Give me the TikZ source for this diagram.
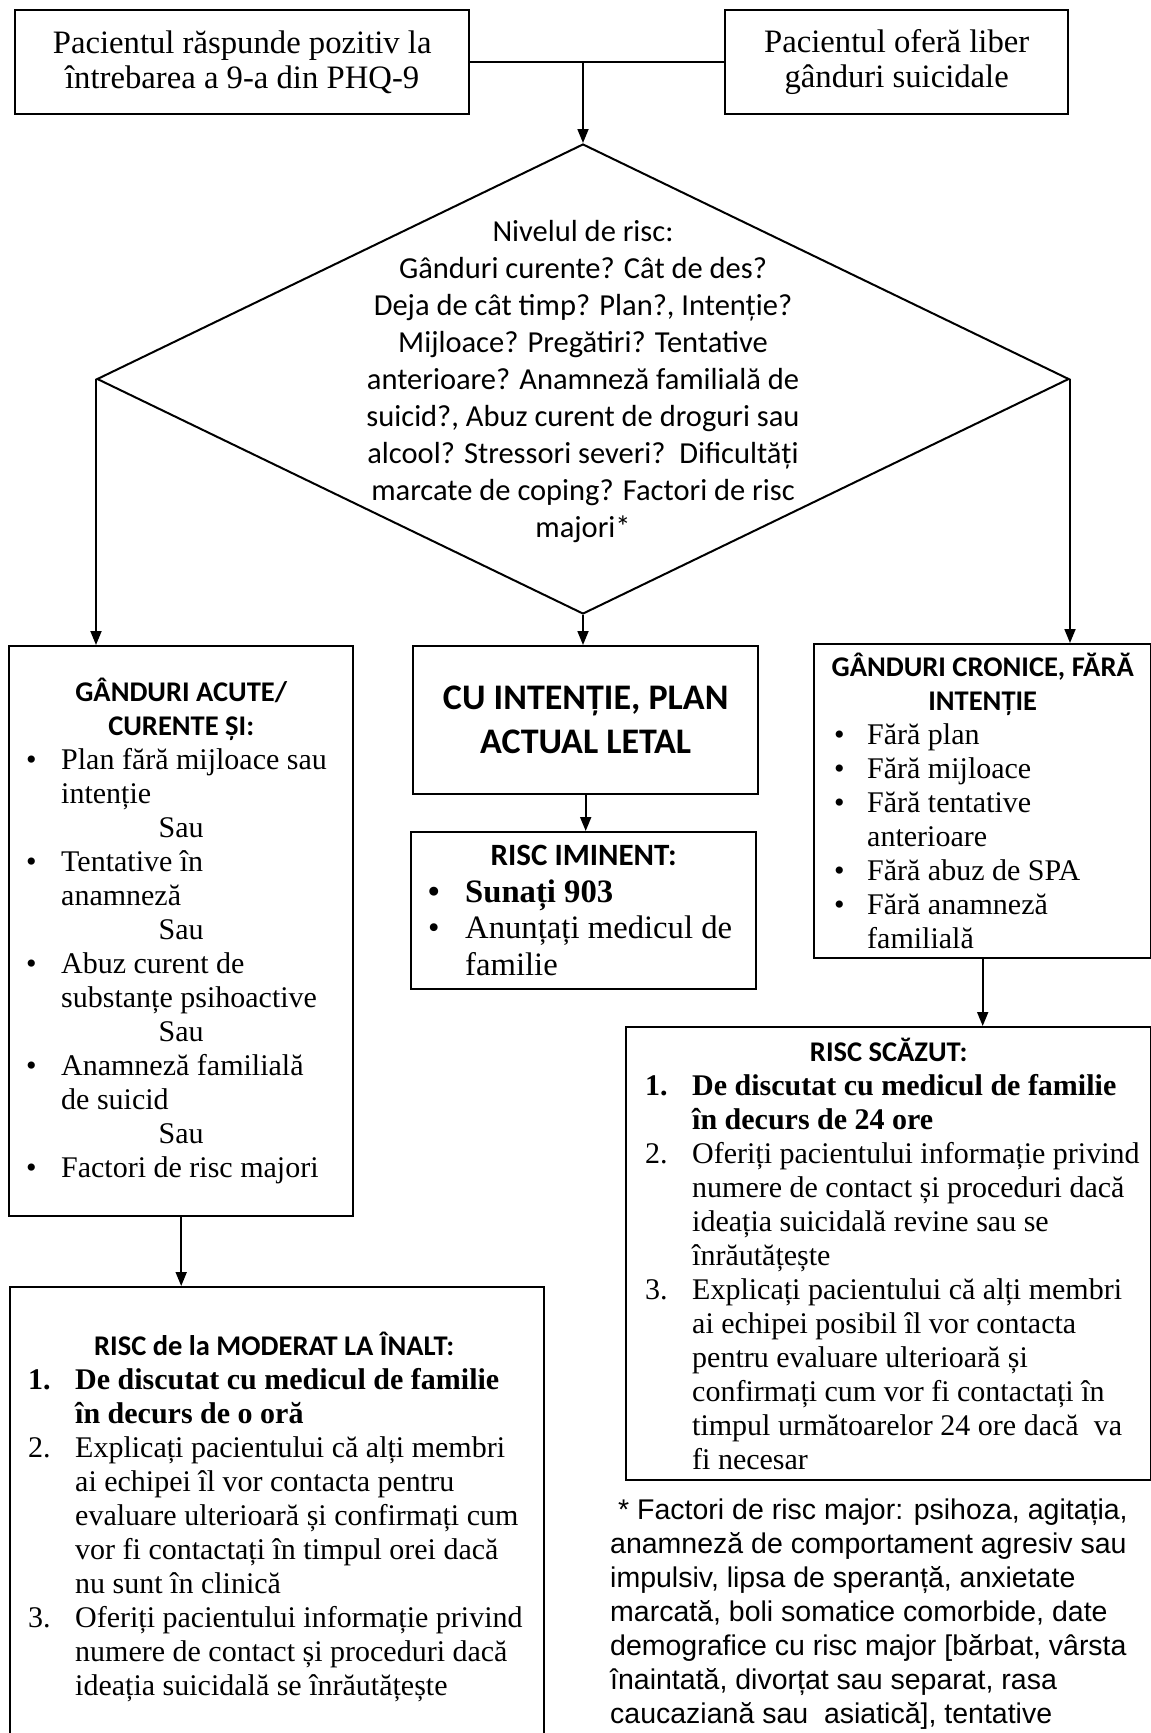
\documentclass[tikz,border=0pt]{standalone}
\usepackage{fontspec}
\setmainfont{Liberation Serif}
\newfontfamily\calfont{Carlito}
\newfontfamily\arfont{Liberation Sans}
\usetikzlibrary{arrows.meta,shapes.geometric}

\newlength\bulw
\newlength\bulx
\newcommand\tblk[2]{\vbox{\hsize=#1\relax\parindent=0pt\lineskiplimit=-500pt\lineskip=0pt #2}}
\newcommand\ttopblk[2]{\vtop{\hsize=#1\relax\parindent=0pt\lineskiplimit=-500pt\lineskip=0pt #2}}
\newcommand\lnC[1]{\hbox to\hsize{\hss#1\hss}}
\newcommand\lnL[1]{\hbox to\hsize{#1\hss}}
\newcommand\lnB[1]{\hbox to\hsize{\hbox to\bulw{\hskip\bulx•\hss}#1\hss}}
\newcommand\lnI[1]{\hbox to\hsize{\hskip\bulw#1\hss}}
\newcommand\lnN[2]{\hbox to\hsize{\hbox to\bulw{\hskip\bulx#1\hss}#2\hss}}
\newcommand\bs[1]{\baselineskip=#1pt\relax}
\newcommand\hdA{\calfont\bfseries\fontsize{28.5}{34}\selectfont}
\newcommand\hdB{\calfont\bfseries\fontsize{31}{34}\selectfont}
\newcommand\serA{\fontsize{30}{34}\selectfont}
\newcommand\serB{\fontsize{32.7}{35.4}\selectfont}

\begin{document}
\begin{tikzpicture}[x=1pt,y=-1pt,
  box/.style={draw,line width=2.4pt,inner sep=0pt,anchor=north west},
  conn/.style={line width=1.8pt,-{Triangle[length=14pt,width=11pt]}},
  joinline/.style={line width=1.8pt}]
\useasboundingbox (0,0) rectangle (1151,1733);
\fill[white] (0,0) rectangle (1151,1733);
\clip (0,0) rectangle (1151,1733);

% top boxes
\node[box,minimum width=454pt,minimum height=104pt] (tl) at (14,9)
  {\serB\tblk{440pt}{\bs{35.4}\lnC{Pacientul răspunde pozitiv la}\lnC{întrebarea a 9-a din PHQ-9}}};
\node[box,minimum width=343pt,minimum height=104pt] (tr) at (724,9)
  {\serB\tblk{330pt}{\bs{35.4}\lnC{Pacientul oferă liber}\lnC{gânduri suicidale}}};

% diamond
\node[draw,diamond,line width=2pt,inner sep=0pt,minimum width=972pt,minimum height=470pt] (dia) at (583,379) {};
\node[inner sep=0pt] (dtext) at (583,382)
  {\calfont\fontsize{30.5}{37}\selectfont\tblk{520pt}{\bs{37}%
   \lnC{Nivelul de risc:}%
   \lnC{Gânduri curente? Cât de des?}%
   \lnC{Deja de cât timp? Plan?, Intenție?}%
   \lnC{Mijloace? Pregătiri? Tentative}%
   \lnC{anterioare? Anamneză familială de}%
   \lnC{suicid?, Abuz curent de droguri sau}%
   \lnC{alcool? Stressori severi?\ \ Dificultăți}%
   \lnC{marcate de coping? Factori de risc}%
   \lnC{majori*}}};

% left box
\node[box,minimum width=344pt,minimum height=570pt] (lbox) at (8,645)
  {\serA\tblk{304pt}{\setlength\bulw{32pt}\setlength\bulx{-3pt}\bs{34}%
   \lnC{\hdA GÂNDURI ACUTE/}%
   \lnC{\hdA CURENTE ȘI:}%
   \lnB{Plan fără mijloace sau}%
   \lnI{intenție}%
   \lnC{Sau}%
   \lnB{Tentative în}%
   \lnI{anamneză}%
   \lnC{Sau}%
   \lnB{Abuz curent de}%
   \lnI{substanțe psihoactive}%
   \lnC{Sau}%
   \lnB{Anamneză familială}%
   \lnI{de suicid}%
   \lnC{Sau}%
   \lnB{Factori de risc majori}}};

% middle box
\node[box,minimum width=345pt,minimum height=148pt] (mbox) at (412,645)
  {\calfont\bfseries\fontsize{36}{44}\selectfont\tblk{340pt}{\bs{44}\lnC{CU INTENȚIE, PLAN}\lnC{ACTUAL LETAL}}};

% imminent box
\node[box,minimum width=345pt,minimum height=157pt] (imin) at (410,831)
  {\serB\tblk{305pt}{\setlength\bulw{34pt}\setlength\bulx{-3pt}\bs{36.5}%
   \lnC{\hdB RISC IMINENT:}%
   {\bfseries\lnB{Sunați 903}}%
   \lnB{Anunțați medicul de}%
   \lnI{familie}}};

% right box
\node[box,minimum width=337pt,minimum height=314pt] (rbox) at (813,643)
  {\serA\tblk{285pt}{\setlength\bulw{27pt}\setlength\bulx{-6pt}\bs{34}%
   \lnC{\hdA GÂNDURI CRONICE, FĂRĂ}%
   \lnC{\hdA INTENȚIE}%
   \lnB{Fără plan}%
   \lnB{Fără mijloace}%
   \lnB{Fără tentative}%
   \lnI{anterioare}%
   \lnB{Fără abuz de SPA}%
   \lnB{Fără anamneză}%
   \lnI{familială}}};

% low risk box
\node[box,minimum width=525pt,minimum height=453pt] (low) at (625,1026)
  {\serA\tblk{489pt}{\setlength\bulw{48pt}\setlength\bulx{1pt}\bs{34}%
   \lnC{\hdA RISC SCĂZUT:}%
   {\bfseries\lnN{1.}{De discutat cu medicul de familie}\lnI{în decurs de 24 ore}}%
   \lnN{2.}{Oferiți pacientului informație privind}%
   \lnI{numere de contact și proceduri dacă}%
   \lnI{ideația suicidală revine sau se}%
   \lnI{înrăutățește}%
   \lnN{3.}{Explicați pacientului că alți membri}%
   \lnI{ai echipei posibil îl vor contacta}%
   \lnI{pentru evaluare ulterioară și}%
   \lnI{confirmați cum vor fi contactați în}%
   \lnI{timpul următoarelor 24 ore dacă\ \ va}%
   \lnI{fi necesar}}};

% moderate-high box
\node[box,minimum width=534pt,minimum height=460pt] (mod) at (9,1286)
  {\serA\tblk{498pt}{\setlength\bulw{47pt}\setlength\bulx{0pt}\bs{34}%
   \lnL{\hskip66pt\hdA RISC de la MODERAT LA ÎNALT:}%
   {\bfseries\lnN{1.}{De discutat cu medicul de familie}\lnI{în decurs de o oră}}%
   \lnN{2.}{Explicați pacientului că alți membri}%
   \lnI{ai echipei îl vor contacta pentru}%
   \lnI{evaluare ulterioară și confirmați cum}%
   \lnI{vor fi contactați în timpul orei dacă}%
   \lnI{nu sunt în clinică}%
   \lnN{3.}{Oferiți pacientului informație privind}%
   \lnI{numere de contact și proceduri dacă}%
   \lnI{ideația suicidală se înrăutățește}}};

% footnote
\node[inner sep=0pt,anchor=base west] (foot) at (610,1519)
  {\arfont\fontsize{28.5}{34}\selectfont\ttopblk{540pt}{\bs{34}%
   \lnL{\hskip8pt* Factori de risc major: psihoza, agitația,}%
   \lnL{anamneză de comportament agresiv sau}%
   \lnL{impulsiv, lipsa de speranță, anxietate}%
   \lnL{marcată, boli somatice comorbide, date}%
   \lnL{demografice cu risc major [bărbat, vârsta}%
   \lnL{înaintată, divorțat sau separat, rasa}%
   \lnL{caucaziană sau\ \ asiatică], tentative}}};

% connectors
\draw[joinline] (tl.east) -- (tr.west);
\draw[conn] (tl.east -| dia.north) -- (dia.north);
\draw[conn] (dia.west) -- (dia.west |- lbox.north);
\draw[conn] (dia.south) -- (dia.south |- mbox.north);
\draw[conn] (dia.east) -- (dia.east |- rbox.north);
\draw[conn] (mbox.south) -- (mbox.south |- imin.north);
\draw[conn] (rbox.south) -- (rbox.south |- low.north);
\draw[conn] (lbox.south) -- (lbox.south |- mod.north);
\end{tikzpicture}
\end{document}
